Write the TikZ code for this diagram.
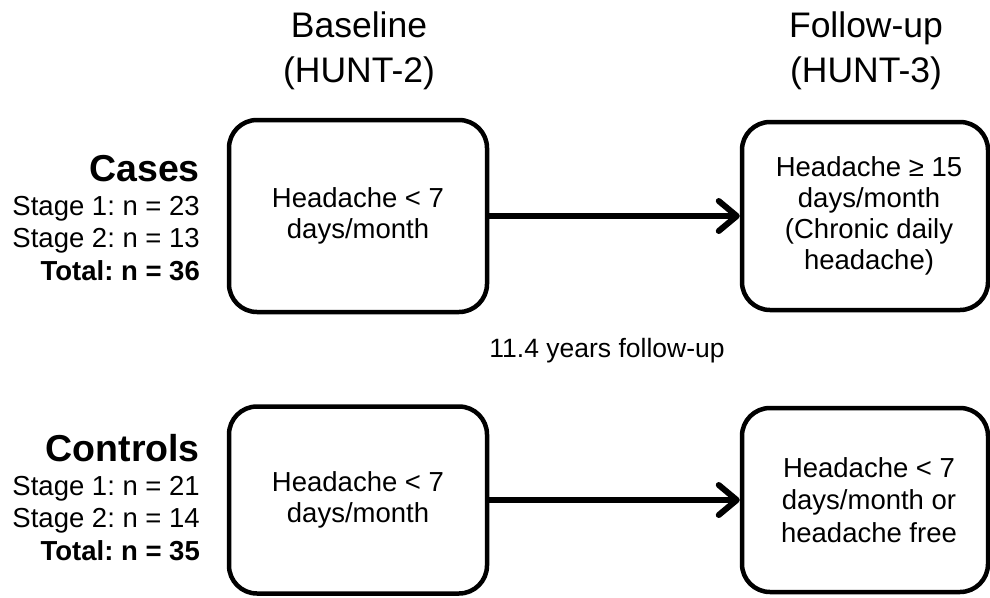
\documentclass[tikz,border=0pt]{standalone}
\usepackage{fontspec}
\setmainfont{Liberation Sans}
\usetikzlibrary{arrows.meta}
\frenchspacing
\begin{document}
\begin{tikzpicture}[x=1pt,y=-1pt,
  box/.style={draw, line width=4.5pt, rounded corners=28pt, inner sep=0pt},
  body/.style={align=center, font=\fontsize{27.5}{31}\selectfont},
  head/.style={align=center, font=\fontsize{35.5}{45}\selectfont},
  lbl/.style={anchor=base east, inner sep=0pt, font=\fontsize{27.5}{32}\selectfont},
  blbl/.style={anchor=base east, inner sep=0pt, font=\fontsize{27.5}{32}\selectfont\bfseries},
  big/.style={anchor=base east, inner sep=0pt, font=\fontsize{37.5}{40}\selectfont\bfseries},
  conn/.style={line width=6pt, -{Straight Barb[length=18pt,width=30pt,line cap=round,line join=round]}}
]
\useasboundingbox (0,0) rectangle (990,597);
% headers
\node[head, anchor=base, inner sep=0pt] (h1a) at (359,37) {Baseline};
\node[head, anchor=base, inner sep=0pt] (h1b) at (359,82) {(HUNT-2)};
\node[head, anchor=base, inner sep=0pt] (h2a) at (866,37) {Follow-up};
\node[head, anchor=base, inner sep=0pt] (h2b) at (866,82) {(HUNT-3)};
% boxes
\node[box, minimum width=258pt, minimum height=192pt] (b1) at (358,216) {};
\node[body] (t1) at (358,216) {Headache < 7\\days/month};
\node[box, minimum width=246pt, minimum height=188pt] (b2) at (865,216) {};
\node[body] (t2) at (869,216) {Headache ≥ 15\\days/month\\(Chronic daily\\headache)};
\node[box, minimum width=258pt, minimum height=187pt] (b3) at (358,500) {};
\node[body] (t3) at (358,500) {Headache < 7\\days/month};
\node[box, minimum width=246pt, minimum height=184pt] (b4) at (865,500) {};
\node[body, font=\fontsize{27.5}{32.5}\selectfont] (t4) at (869,500) {Headache < 7\\days/month or\\headache free};
% arrows
\draw[conn] (b1.east) -- (b2.west);
\draw[conn] (b3.east) -- (b4.west);
% middle label
\node[anchor=base, inner sep=0pt, font=\fontsize{26.5}{30}\selectfont] (mid) at (607,357) {11.4 years follow-up};
% left labels
\node[big] (cases) at (200,181) {Cases};
\node[lbl] (cs1) at (200,215) {Stage 1: n = 23};
\node[lbl] (cs2) at (200,247) {Stage 2: n = 13};
\node[blbl] (ctot) at (200,280) {Total: n = 36};
\node[big] (ctrl) at (200,461) {Controls};
\node[lbl] (ks1) at (200,495) {Stage 1: n = 21};
\node[lbl] (ks2) at (200,527) {Stage 2: n = 14};
\node[blbl] (ktot) at (200,560) {Total: n = 35};
\end{tikzpicture}
\end{document}
